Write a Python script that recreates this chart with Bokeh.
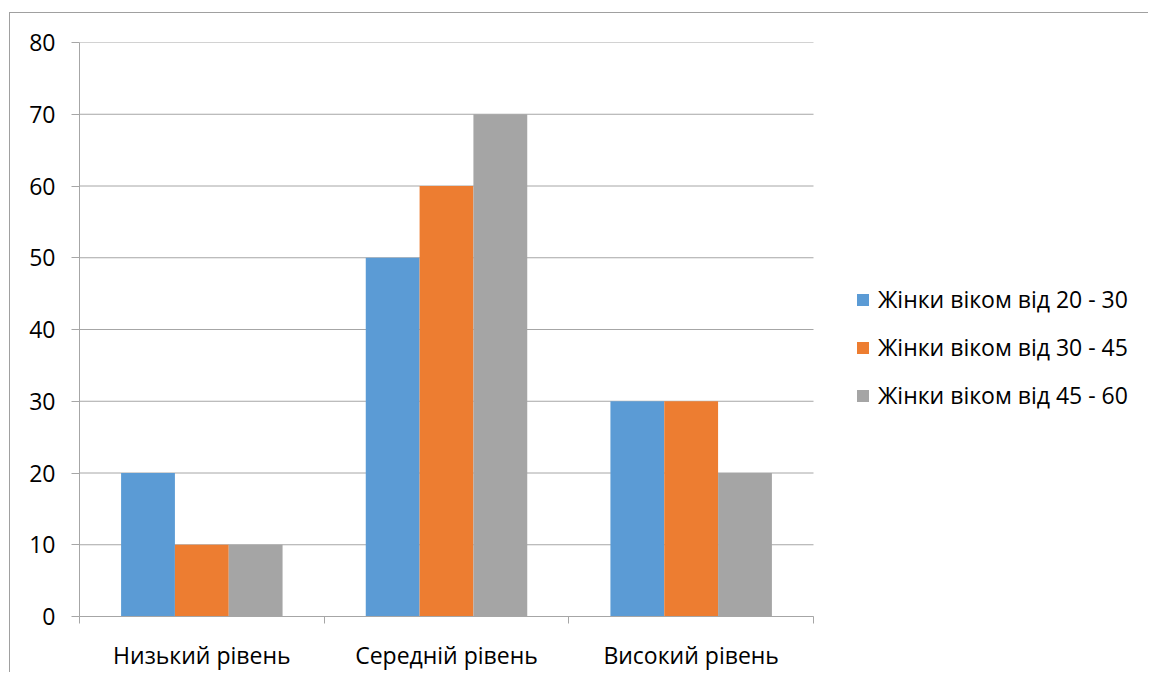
from bokeh.plotting import figure
from bokeh.models import FixedTicker, Legend, LegendItem, Range1d, ColumnDataSource
from bokeh.embed import file_html
from bokeh.resources import INLINE

categories = ["Низький рівень", "Середній рівень", "Високий рівень"]
series_names = ["Жінки віком від 20 - 30", "Жінки віком від 30 - 45", "Жінки віком від 45 - 60"]
s1 = [20, 50, 30]
s2 = [10, 60, 30]
s3 = [10, 70, 20]
colors = ["#5B9BD5", "#ED7D31", "#A5A5A5"]
y_ticks = [0, 10, 20, 30, 40, 50, 60, 70, 80]

FONT = "Open Sans"
FS = "23px"
GRID = "#a6a6a6"

W, H = 1139, 660
FL, FR, FT, FB = 69, 803, 29, 609   # plot area of the categories (px)
ncat = len(categories)
x_end = ncat * (W - FL) / (FR - FL)   # frame spans to the right edge; categories occupy 0..ncat

p = figure(width=W, height=H, output_backend="svg", toolbar_location=None,
           x_range=Range1d(0, x_end), y_range=Range1d(0, 80),
           min_border_left=FL, min_border_right=0,
           min_border_top=FT, min_border_bottom=H - FB)
p.margin = (12, 0, 0, 9)
p.outline_line_color = None
p.background_fill_color = "white"
p.border_fill_color = "white"
p.styles = {"border-top": "1px solid #a0a0a0", "border-left": "1px solid #a0a0a0"}

# horizontal gridlines limited to the category area
p.xgrid.grid_line_color = None
p.ygrid.grid_line_color = None
p.segment(x0=[0] * len(y_ticks), x1=[ncat] * len(y_ticks), y0=y_ticks, y1=y_ticks,
          line_color=GRID, line_width=1)

bar_w = 0.22
offsets = [-bar_w, 0.0, bar_w]
items = []
for vals, off, col, name in zip([s1, s2, s3], offsets, colors, series_names):
    src = ColumnDataSource(dict(x=[i + 0.5 + off for i in range(ncat)], top=vals))
    r = p.vbar(x="x", top="top", width=bar_w, bottom=0, source=src,
               fill_color=col, line_color=None)
    items.append(LegendItem(label=name, renderers=[r]))

# y axis
p.yaxis.ticker = FixedTicker(ticks=y_ticks)
p.yaxis.axis_line_color = GRID
p.yaxis.major_tick_line_color = GRID
p.yaxis.major_tick_out = 8
p.yaxis.major_tick_in = 0
p.yaxis.minor_tick_line_color = None
p.yaxis.major_label_text_font = FONT
p.yaxis.major_label_text_font_size = FS
p.yaxis.major_label_text_color = "black"
p.yaxis.major_label_standoff = 16

# x axis
p.xaxis.ticker = FixedTicker(ticks=[i + 0.5 for i in range(ncat)],
                             minor_ticks=list(range(ncat + 1)))
p.xaxis.bounds = (0, ncat)
p.xaxis.major_label_overrides = {i + 0.5: c for i, c in enumerate(categories)}
p.xaxis.axis_line_color = GRID
p.xaxis.major_tick_line_color = None
p.xaxis.minor_tick_line_color = GRID
p.xaxis.minor_tick_out = 7
p.xaxis.minor_tick_in = 0
p.xaxis.major_label_text_font = FONT
p.xaxis.major_label_text_font_size = FS
p.xaxis.major_label_text_color = "black"
p.xaxis.major_label_standoff = 15

legend = Legend(items=items, location=(776, 205), orientation="vertical",
                glyph_width=15, glyph_height=15, label_height=24, spacing=16,
                label_standoff=8, padding=0, margin=0,
                border_line_color=None, background_fill_alpha=0,
                label_text_font=FONT, label_text_font_size=FS,
                label_text_color="black")
p.add_layout(legend, "center")

open("out.html", "w").write(file_html(p, INLINE))
